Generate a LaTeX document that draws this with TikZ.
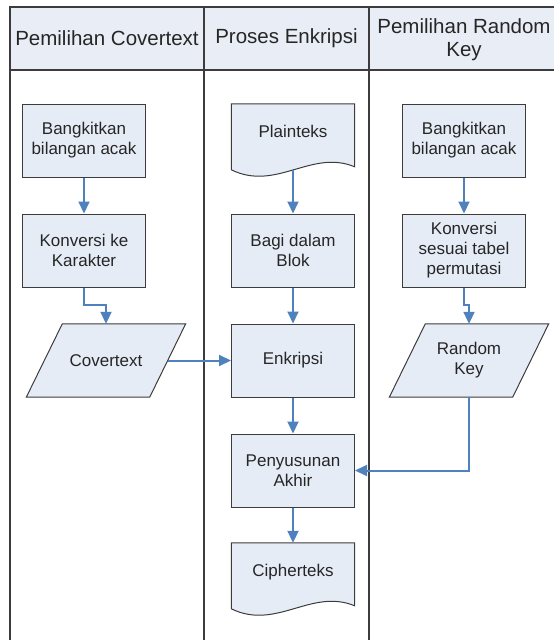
\documentclass[tikz,border=0pt]{standalone}
\usepackage{fontspec}
\setmainfont{Liberation Sans}
\usepackage{xcolor}
\usepackage{tikz}
\usetikzlibrary{calc,arrows.meta,backgrounds}
\definecolor{frame}{HTML}{3C3C3C}
\definecolor{boxfill}{HTML}{E6ECF6}
\definecolor{headfill}{HTML}{E9EEF6}
\definecolor{flow}{HTML}{4F81BD}
\definecolor{ink}{HTML}{262626}
\tikzset{
  lane/.style={draw=frame, line width=1.5pt},
  head/.style={text=ink, font=\fontsize{20.5}{23}\selectfont, align=center},
  box/.style={draw=frame, fill=boxfill, line width=1pt, minimum width=123pt, minimum height=73pt,
    align=center, text=ink, font=\fontsize{17}{20}\selectfont},
  io/.style={minimum width=123pt, minimum height=73pt, inner sep=0pt,
    align=center, text=ink, font=\fontsize{17}{20}\selectfont},
  doc/.style={minimum width=123pt, text height=33pt, text depth=33pt, inner sep=0pt,
    text=ink, font=\fontsize{17}{20}\selectfont},
  shapeline/.style={draw=frame, fill=boxfill, line width=1pt, line join=miter},
  arr/.style={draw=flow, line width=2pt, -{Triangle[length=12pt,width=11pt]}},
}

\begin{document}
\begin{tikzpicture}[x=1pt,y=-1pt]
  \useasboundingbox (0,0) rectangle (554,640);
  \clip (0,0) rectangle (554,640);

  % lanes
  \fill[headfill] (10,7) rectangle (559,70);
  \draw[lane] (10,645) -- (10,7) -- (559,7) -- (559,645);
  \draw[lane] (10,70) -- (559,70);
  \draw[lane] (204,7) -- (204,645);
  \draw[lane] (369,7) -- (369,645);
  \node[head] (h1) at (107,38) {Pemilihan Covertext};
  \node[head] (h2) at (286.5,38) {Proses Enkripsi};
  \node[head] (h3) at (464,40) {Pemilihan Random\\Key};

  % Pemilihan Covertext
  \node[box] (bk1) at (84,140.5) {Bangkitkan\\bilangan acak};
  \node[box] (kk)  at (84,250.5) {Konversi ke\\Karakter};
  \node[io]  (cov) at (106,360.5) {Covertext};

  % Proses Enkripsi
  \node[doc] (plain) at (293,137) {Plainteks};
  \node[box] (bagi)  at (293,250.5) {Bagi dalam\\Blok};
  \node[box] (enk)   at (293,360.5) {Enkripsi};
  \node[box] (susun) at (293,470.5) {Penyusunan\\Akhir};
  \node[doc] (ciph)  at (293,576) {Cipherteks};

  % Pemilihan Random Key
  \node[box] (bk2)  at (464,140.5) {Bangkitkan\\bilangan acak};
  \node[box] (ks)   at (464,250.5) {Konversi\\sesuai tabel\\permutasi};
  \node[io]  (rkey) at (469,360.5) {Random\\Key};

  \begin{scope}[on background layer]
    \foreach \d in {plain,ciph}
      \draw[shapeline] (\d.north west) -- (\d.north east) -- ($(\d.north east)+(0,63)$)
        .. controls ($(\d.north west)+(80,45)$) and ($(\d.north west)+(45,88)$) .. ($(\d.north west)+(0,66)$) -- cycle;
    \foreach \p in {cov,rkey}
      \draw[shapeline] ($(\p.north west)+(18,0)$) -- ($(\p.north east)+(18,0)$)
        -- ($(\p.south east)+(-18,0)$) -- ($(\p.south west)+(-18,0)$) -- cycle;
  \end{scope}

  % alur
  \draw[arr] (bk1) -- (kk);
  \draw[arr] (kk.south) -- ++(0,17) -| (cov);
  \draw[arr] (cov) -- (enk);
  \draw[arr] (plain) -- (bagi);
  \draw[arr] (bagi) -- (enk);
  \draw[arr] (enk) -- (susun);
  \draw[arr] (susun) -- (ciph);
  \draw[arr] (bk2) -- (ks);
  \draw[arr] (ks.south) -- ++(0,17) -| (rkey);
  \draw[arr] (rkey) |- (susun);
\end{tikzpicture}
\end{document}
